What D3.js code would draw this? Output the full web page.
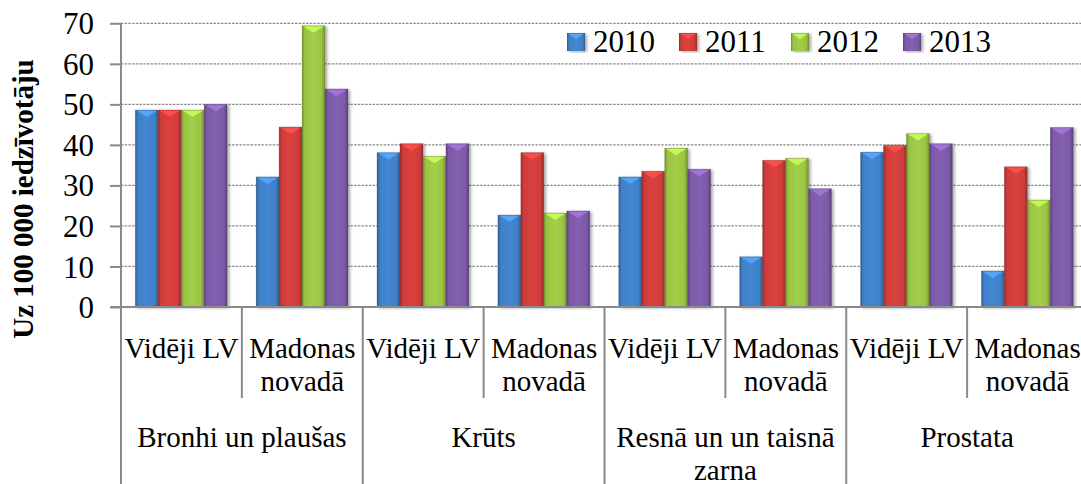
<!DOCTYPE html>
<html>
<head>
<meta charset="utf-8">
<script src="https://cdn.jsdelivr.net/npm/d3@7"></script>
<style>
  html, body { margin: 0; padding: 0; background: #fff; overflow: hidden; }
</style>
</head>
<body>
<div id="chart"></div>
<script>
// --- data ---
const groups = ["Bronhi un plaušas", "Krūts", "Resnā un un taisnā zarna", "Prostata"];
const groupLines = [["Bronhi un plaušas"], ["Krūts"], ["Resnā un un taisnā", "zarna"], ["Prostata"]];
const subLines = [["Vidēji LV"], ["Madonas", "novadā"]];
const years = ["2010", "2011", "2012", "2013"];
const v2010 = [48.6, 32.1, 38.1, 22.7, 32.1, 12.4, 38.2, 8.9];
const v2011 = [48.6, 44.4, 40.3, 38.1, 33.5, 36.2, 39.9, 34.6];
const v2012 = [48.6, 69.4, 37.2, 23.2, 39.2, 36.7, 42.8, 26.4];
const v2013 = [50.0, 53.8, 40.3, 23.7, 34.0, 29.2, 40.3, 44.3];
const yTicks = [0, 10, 20, 30, 40, 50, 60, 70];
const yTitle = "Uz 100 000 iedzīvotāju";

(function () {
  const series = [v2010, v2011, v2012, v2013];
  const colors = ["#4080c8", "#cf3d3a", "#9ac444", "#7d5aa8"];
  const FONT = "'Liberation Serif', 'Times New Roman', serif";

  // one row per bar category (group x sub)
  const cats = [];
  groups.forEach((g, gi) => subLines.forEach((s, si) => cats.push({ gi, si, key: gi + "-" + si })));

  // --- layout ---
  const W = 1081, H = 484;
  const left = 121, right = 1088, plotTop = 23.3, base = 307;
  const axisCol = "#8a8a8a";

  const svg = d3.select("#chart").append("svg")
    .attr("width", W).attr("height", H).attr("viewBox", `0 0 ${W} ${H}`);

  const label = (x, yy, txt, size) => svg.append("text")
    .attr("x", x).attr("y", yy).attr("text-anchor", "middle")
    .style("font-family", FONT).style("font-size", size + "px").attr("fill", "#000").text(txt);

  const defs = svg.append("defs");
  const shadow = defs.append("filter").attr("id", "shadow")
    .attr("x", "-20%").attr("y", "-5%").attr("width", "150%").attr("height", "115%");
  shadow.append("feDropShadow").attr("dx", 2).attr("dy", 1).attr("stdDeviation", 1.6)
    .attr("flood-color", "#000").attr("flood-opacity", 0.35);

  colors.forEach((c, i) => {
    const dark = d3.color(c).darker(0.9), mid = d3.color(c).brighter(0.15);
    const g = defs.append("linearGradient").attr("id", "bar" + i)
      .attr("x1", "0").attr("x2", "1").attr("y1", "0").attr("y2", "0");
    [[0, dark], [0.12, c], [0.5, mid], [0.85, c], [1, dark]].forEach(([o, col]) =>
      g.append("stop").attr("offset", o).attr("stop-color", col));
  });

  const x0 = d3.scaleBand().domain(cats.map(d => d.key)).range([left, right]).padding(0);
  const x1 = d3.scaleBand().domain(years)
    .range([x0.bandwidth() * 0.118, x0.bandwidth() * 0.878]).padding(0);
  const y = d3.scaleLinear().domain([0, 70]).range([base, plotTop]);

  // gridlines
  svg.append("g").selectAll("line").data(yTicks.filter(t => t > 0)).join("line")
    .attr("x1", left).attr("x2", W).attr("y1", d => y(d)).attr("y2", d => y(d))
    .attr("stroke", axisCol).attr("stroke-width", 1.2).attr("stroke-dasharray", "2.5,1.2");

  // y axis
  const yAxis = svg.append("g").attr("transform", `translate(${left},0)`)
    .call(d3.axisLeft(y).tickValues(yTicks).tickSize(11).tickPadding(16).tickSizeOuter(0));
  yAxis.select(".domain").remove();
  yAxis.selectAll(".tick line").attr("stroke", axisCol).attr("stroke-width", 2);
  yAxis.selectAll(".tick text").style("font-family", FONT).style("font-size", "31px")
    .attr("fill", "#000").attr("dy", "0.34em");

  // bars
  const gBars = svg.append("g");
  cats.forEach((cat, ci) => {
    const g = gBars.append("g").attr("transform", `translate(${x0(cat.key)},0)`);
    years.forEach((yr, k) => {
      const v = series[k][ci];
      const bx = x1(yr), bw = x1.bandwidth(), by = y(v), bh = base - y(v);
      g.append("rect").attr("x", bx).attr("y", by).attr("width", bw).attr("height", bh)
        .attr("fill", `url(#bar${k})`).attr("filter", "url(#shadow)")
        .attr("stroke", d3.color(colors[k]).darker(1.2)).attr("stroke-opacity", 0.35).attr("stroke-width", 0.6);
      const cap = Math.min(7, bh);
      g.append("polygon")
        .attr("points", `${bx + 1.5},${by + 0.8} ${bx + bw - 1.5},${by + 0.8} ${bx + bw / 2},${by + cap}`)
        .attr("fill", d3.color(colors[k]).brighter(0.8)).attr("opacity", 0.85);
    });
  });

  // axis lines
  svg.append("line").attr("x1", left).attr("x2", left).attr("y1", plotTop).attr("y2", H)
    .attr("stroke", axisCol).attr("stroke-width", 2);
  svg.append("line").attr("x1", left - 11).attr("x2", W).attr("y1", base).attr("y2", base)
    .attr("stroke", axisCol).attr("stroke-width", 2);

  // category dividers
  cats.forEach((cat, ci) => {
    if (ci === 0) return;
    const xx = x0(cat.key);
    svg.append("line").attr("x1", xx).attr("x2", xx).attr("y1", base)
      .attr("y2", cat.si === 0 ? H : 398)
      .attr("stroke", axisCol).attr("stroke-width", 2);
  });

  // sub-category labels
  cats.forEach(cat => {
    const cx = x0(cat.key) + x0.bandwidth() / 2;
    subLines[cat.si].forEach((ln, li) => label(cx, 358 + li * 32.5, ln, 29));
  });

  // group labels
  groups.forEach((g, gi) => {
    const cx = x0(gi + "-0") + x0.bandwidth();
    groupLines[gi].forEach((ln, li) => label(cx, 447 + li * 33, ln, 29));
  });

  // y title
  svg.append("text").attr("transform", `translate(33,199) rotate(-90)`)
    .attr("text-anchor", "middle").style("font-family", FONT).style("font-size", "29px")
    .style("font-weight", "bold").text(yTitle);

  // legend
  const lg = svg.append("g").attr("transform", "translate(567,33)");
  years.forEach((yr, k) => {
    const it = lg.append("g").attr("transform", `translate(${k * 112},0)`);
    it.append("rect").attr("width", 18).attr("height", 18).attr("fill", `url(#bar${k})`)
      .attr("filter", "url(#shadow)");
    it.append("polygon").attr("points", "1.5,1 16.5,1 9,6")
      .attr("fill", d3.color(colors[k]).brighter(0.8)).attr("opacity", 0.85);
    it.append("text").attr("x", 26).attr("y", 19)
      .style("font-family", FONT).style("font-size", "31px").text(yr);
  });
})();
</script>
</body>
</html>
